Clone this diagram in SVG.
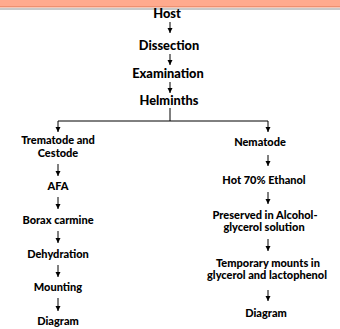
<svg xmlns="http://www.w3.org/2000/svg" width="340" height="329" viewBox="0 0 340 329">
<defs>
<marker id="ah" markerWidth="6" markerHeight="6" refX="5" refY="3" orient="auto" markerUnits="userSpaceOnUse">
<path d="M0,0.5 L5,3 L0,5.5 Z" fill="#000"/>
</marker>
<style>
text{font-family:Lato,"Liberation Sans",sans-serif;font-weight:900;font-size:11px;fill:#000;text-anchor:middle}
.top text{font-size:12.8px}
.c line,.c polyline{stroke:#000;stroke-width:1;fill:none}
.a{marker-end:url(#ah)}
</style>
</defs>
<rect x="0" y="0" width="340" height="329" fill="#fff"/>
<rect x="0" y="0" width="340" height="6" fill="#FFAA8E"/>
<rect x="0" y="6" width="340" height="1.5" fill="#EE9070"/>
<rect x="0" y="8" width="340" height="2" fill="#C9C9C9"/>
<g class="c" id="connectors">
<line class="a" x1="170" y1="22" x2="170" y2="33"/>
<line class="a" x1="170" y1="54" x2="170" y2="65"/>
<line class="a" x1="170" y1="82" x2="170" y2="93"/>
<polyline points="170,108 170,121"/>
<polyline class="a" points="170,121 58,121 58,132"/>
<polyline class="a" points="170,121 268,121 268,132"/>
<line class="a" x1="58" y1="164" x2="58" y2="176"/>
<line class="a" x1="58" y1="197" x2="58" y2="209"/>
<line class="a" x1="58" y1="231" x2="58" y2="243"/>
<line class="a" x1="58" y1="265" x2="58" y2="277"/>
<line class="a" x1="58" y1="298" x2="58" y2="311"/>
<line class="a" x1="268" y1="155" x2="268" y2="166"/>
<line class="a" x1="268" y1="192" x2="268" y2="204"/>
<line class="a" x1="268" y1="239" x2="268" y2="251"/>
<line class="a" x1="268" y1="290" x2="268" y2="301"/>
</g>
<g class="top">
<g id="host"><text x="167" y="18">Host</text></g>
<g id="dissection"><text x="169" y="50">Dissection</text></g>
<g id="examination"><text x="168" y="78">Examination</text></g>
<g id="helminths"><text x="169" y="105">Helminths</text></g>
</g>
<g id="trematode"><text x="58" y="144">Trematode and</text><text x="58" y="157">Cestode</text></g>
<g id="afa"><text x="58" y="190">AFA</text></g>
<g id="borax"><text x="58" y="224">Borax carmine</text></g>
<g id="dehydration"><text x="58" y="258">Dehydration</text></g>
<g id="mounting"><text x="58" y="291">Mounting</text></g>
<g id="diagram-left"><text x="58" y="325">Diagram</text></g>
<g id="nematode"><text x="260" y="146">Nematode</text></g>
<g id="ethanol"><text x="264" y="184">Hot 70% Ethanol</text></g>
<g id="preserved"><text x="265" y="219">Preserved in Alcohol-</text><text x="264" y="231">glycerol solution</text></g>
<g id="temporary"><text x="268" y="267">Temporary mounts in</text><text x="267" y="279">glycerol and lactophenol</text></g>
<g id="diagram-right"><text x="266" y="317">Diagram</text></g>
</svg>
